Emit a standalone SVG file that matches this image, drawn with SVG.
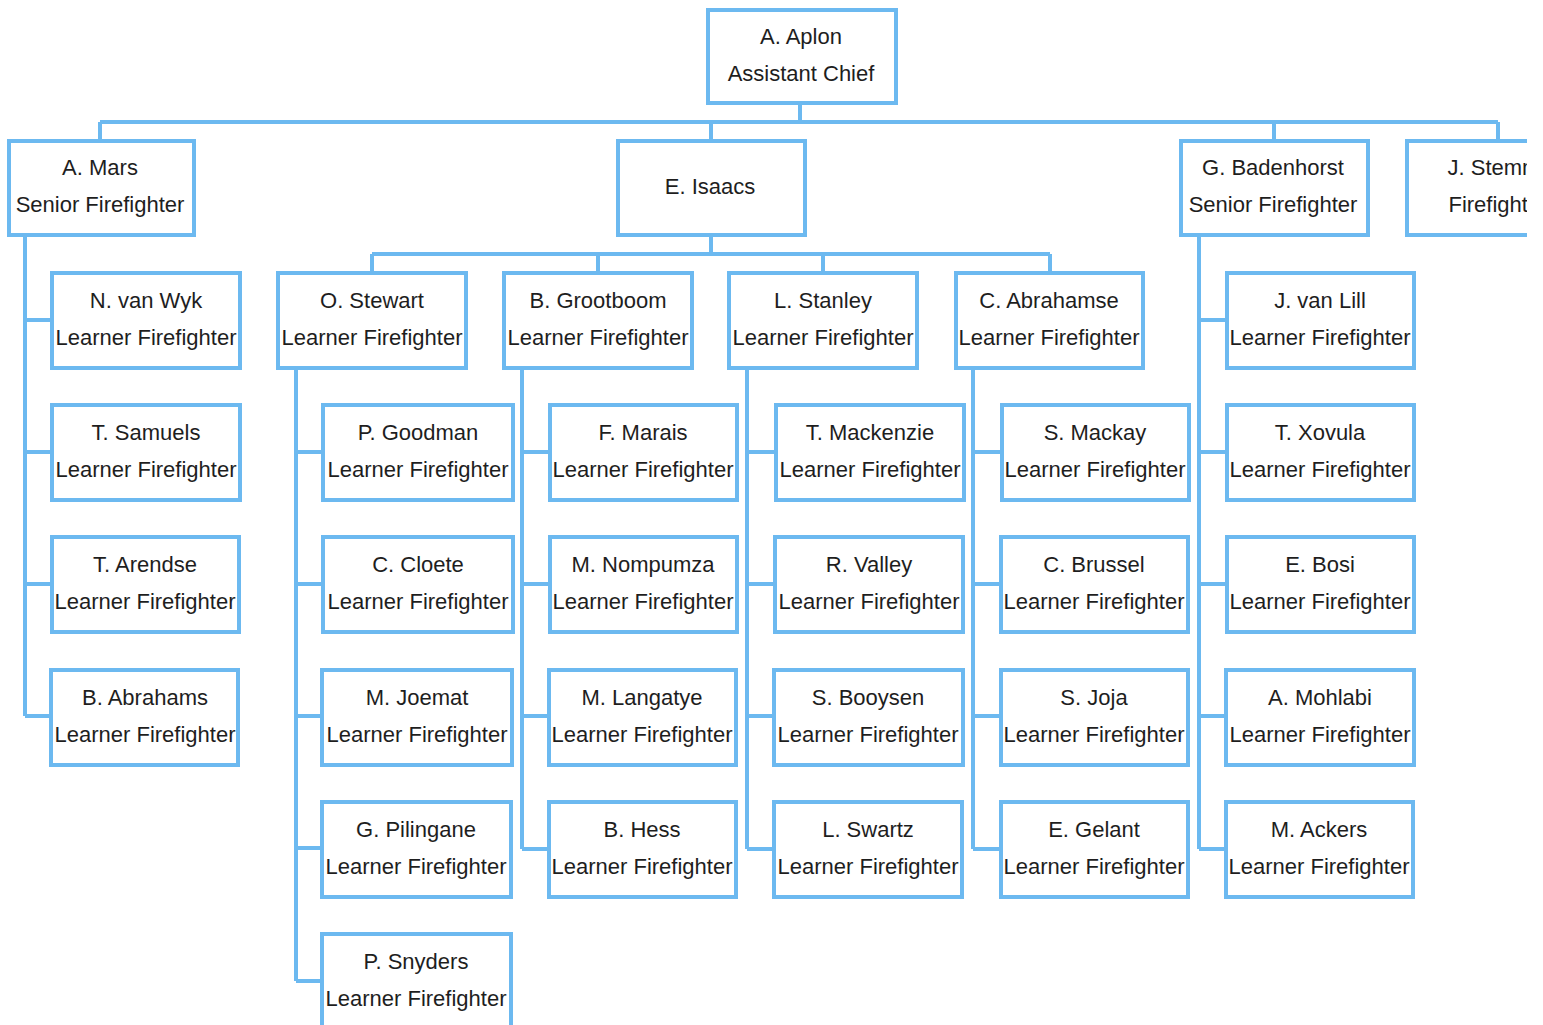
<svg xmlns="http://www.w3.org/2000/svg" width="1543" height="1025" viewBox="0 0 1543 1025">
<style>
.b{fill:#fff;stroke:#6cb9f0;stroke-width:4}
.c{fill:none;stroke:#6cb9f0;stroke-width:4;stroke-linejoin:miter}
text{font-family:"Liberation Sans",Arial,sans-serif;font-size:22px;fill:#1e1e1e;text-anchor:middle}
</style>
<defs><clipPath id="clip"><rect x="0" y="0" width="1527" height="1025"/></clipPath></defs>
<rect width="1543" height="1025" fill="#fff"/>
<g id="connectors" clip-path="url(#clip)">
<path class="c" d="M800 103V122M100 122H1498M100 122V141M711 122V141M1274 122V141M1498 122V141"/>
<path class="c" d="M711 235V254M372 254H1050M372 254V273M598 254V273M823 254V273M1050 254V273"/>
<path class="c" d="M25 235V716M25 320H52M25 452H52M25 584H52M25 716H52"/>
<path class="c" d="M296 368V981M296 452H323M296 584H323M296 716H323M296 848H323M296 981H323"/>
<path class="c" d="M522 368V849M522 452H550M522 584H550M522 716H550M522 849H550"/>
<path class="c" d="M747 368V849M747 452H775M747 584H775M747 716H775M747 849H775"/>
<path class="c" d="M973 368V849M973 452H1001M973 584H1001M973 716H1001M973 849H1001"/>
<path class="c" d="M1199 235V849M1199 320H1227M1199 452H1227M1199 584H1227M1199 716H1227M1199 849H1227"/>
</g>
<g id="aplon"><rect class="b" x="708" y="10" width="188" height="93"/><text x="801" y="44">A. Aplon</text><text x="801" y="81">Assistant Chief</text></g>
<g id="mars"><rect class="b" x="9" y="141" width="185" height="94"/><text x="100" y="175">A. Mars</text><text x="100" y="212">Senior Firefighter</text></g>
<g id="isaacs"><rect class="b" x="618" y="141" width="187" height="94"/><text x="710" y="194">E. Isaacs</text></g>
<g id="badenhorst"><rect class="b" x="1181" y="141" width="187" height="94"/><text x="1273" y="175">G. Badenhorst</text><text x="1273" y="212">Senior Firefighter</text></g>
<g id="stemm" clip-path="url(#clip)"><rect class="b" x="1407" y="141" width="187" height="94"/><text x="1494" y="175">J. Stemm</text><text x="1498" y="212">Firefighter</text></g>

<g id="vanwyk"><rect class="b" x="52" y="273" width="188" height="95"/><text x="146" y="308">N. van Wyk</text><text x="146" y="345">Learner Firefighter</text></g>
<g id="samuels"><rect class="b" x="52" y="405" width="188" height="95"/><text x="146" y="440">T. Samuels</text><text x="146" y="477">Learner Firefighter</text></g>
<g id="arendse"><rect class="b" x="52" y="537" width="187" height="95"/><text x="145" y="572">T. Arendse</text><text x="145" y="609">Learner Firefighter</text></g>
<g id="abrahams"><rect class="b" x="51" y="670" width="187" height="95"/><text x="145" y="705">B. Abrahams</text><text x="145" y="742">Learner Firefighter</text></g>

<g id="stewart"><rect class="b" x="278" y="273" width="188" height="95"/><text x="372" y="308">O. Stewart</text><text x="372" y="345">Learner Firefighter</text></g>
<g id="grootboom"><rect class="b" x="504" y="273" width="188" height="95"/><text x="598" y="308">B. Grootboom</text><text x="598" y="345">Learner Firefighter</text></g>
<g id="stanley"><rect class="b" x="729" y="273" width="188" height="95"/><text x="823" y="308">L. Stanley</text><text x="823" y="345">Learner Firefighter</text></g>
<g id="abrahamse"><rect class="b" x="956" y="273" width="187" height="95"/><text x="1049" y="308">C. Abrahamse</text><text x="1049" y="345">Learner Firefighter</text></g>

<g id="goodman"><rect class="b" x="323" y="405" width="190" height="95"/><text x="418" y="440">P. Goodman</text><text x="418" y="477">Learner Firefighter</text></g>
<g id="cloete"><rect class="b" x="323" y="537" width="190" height="95"/><text x="418" y="572">C. Cloete</text><text x="418" y="609">Learner Firefighter</text></g>
<g id="joemat"><rect class="b" x="322" y="670" width="190" height="95"/><text x="417" y="705">M. Joemat</text><text x="417" y="742">Learner Firefighter</text></g>
<g id="pilingane"><rect class="b" x="322" y="802" width="189" height="95"/><text x="416" y="837">G. Pilingane</text><text x="416" y="874">Learner Firefighter</text></g>
<g id="snyders"><rect class="b" x="322" y="934" width="189" height="100"/><text x="416" y="969">P. Snyders</text><text x="416" y="1006">Learner Firefighter</text></g>

<g id="marais"><rect class="b" x="550" y="405" width="187" height="95"/><text x="643" y="440">F. Marais</text><text x="643" y="477">Learner Firefighter</text></g>
<g id="nompumza"><rect class="b" x="550" y="537" width="187" height="95"/><text x="643" y="572">M. Nompumza</text><text x="643" y="609">Learner Firefighter</text></g>
<g id="langatye"><rect class="b" x="549" y="670" width="187" height="95"/><text x="642" y="705">M. Langatye</text><text x="642" y="742">Learner Firefighter</text></g>
<g id="hess"><rect class="b" x="549" y="802" width="187" height="95"/><text x="642" y="837">B. Hess</text><text x="642" y="874">Learner Firefighter</text></g>

<g id="mackenzie"><rect class="b" x="776" y="405" width="188" height="95"/><text x="870" y="440">T. Mackenzie</text><text x="870" y="477">Learner Firefighter</text></g>
<g id="valley"><rect class="b" x="775" y="537" width="188" height="95"/><text x="869" y="572">R. Valley</text><text x="869" y="609">Learner Firefighter</text></g>
<g id="booysen"><rect class="b" x="774" y="670" width="189" height="95"/><text x="868" y="705">S. Booysen</text><text x="868" y="742">Learner Firefighter</text></g>
<g id="swartz"><rect class="b" x="774" y="802" width="188" height="95"/><text x="868" y="837">L. Swartz</text><text x="868" y="874">Learner Firefighter</text></g>

<g id="mackay"><rect class="b" x="1002" y="405" width="187" height="95"/><text x="1095" y="440">S. Mackay</text><text x="1095" y="477">Learner Firefighter</text></g>
<g id="brussel"><rect class="b" x="1001" y="537" width="187" height="95"/><text x="1094" y="572">C. Brussel</text><text x="1094" y="609">Learner Firefighter</text></g>
<g id="joja"><rect class="b" x="1001" y="670" width="187" height="95"/><text x="1094" y="705">S. Joja</text><text x="1094" y="742">Learner Firefighter</text></g>
<g id="gelant"><rect class="b" x="1001" y="802" width="187" height="95"/><text x="1094" y="837">E. Gelant</text><text x="1094" y="874">Learner Firefighter</text></g>

<g id="vanlill"><rect class="b" x="1227" y="273" width="187" height="95"/><text x="1320" y="308">J. van Lill</text><text x="1320" y="345">Learner Firefighter</text></g>
<g id="xovula"><rect class="b" x="1227" y="405" width="187" height="95"/><text x="1320" y="440">T. Xovula</text><text x="1320" y="477">Learner Firefighter</text></g>
<g id="bosi"><rect class="b" x="1227" y="537" width="187" height="95"/><text x="1320" y="572">E. Bosi</text><text x="1320" y="609">Learner Firefighter</text></g>
<g id="mohlabi"><rect class="b" x="1226" y="670" width="188" height="95"/><text x="1320" y="705">A. Mohlabi</text><text x="1320" y="742">Learner Firefighter</text></g>
<g id="ackers"><rect class="b" x="1226" y="802" width="187" height="95"/><text x="1319" y="837">M. Ackers</text><text x="1319" y="874">Learner Firefighter</text></g>
</svg>
